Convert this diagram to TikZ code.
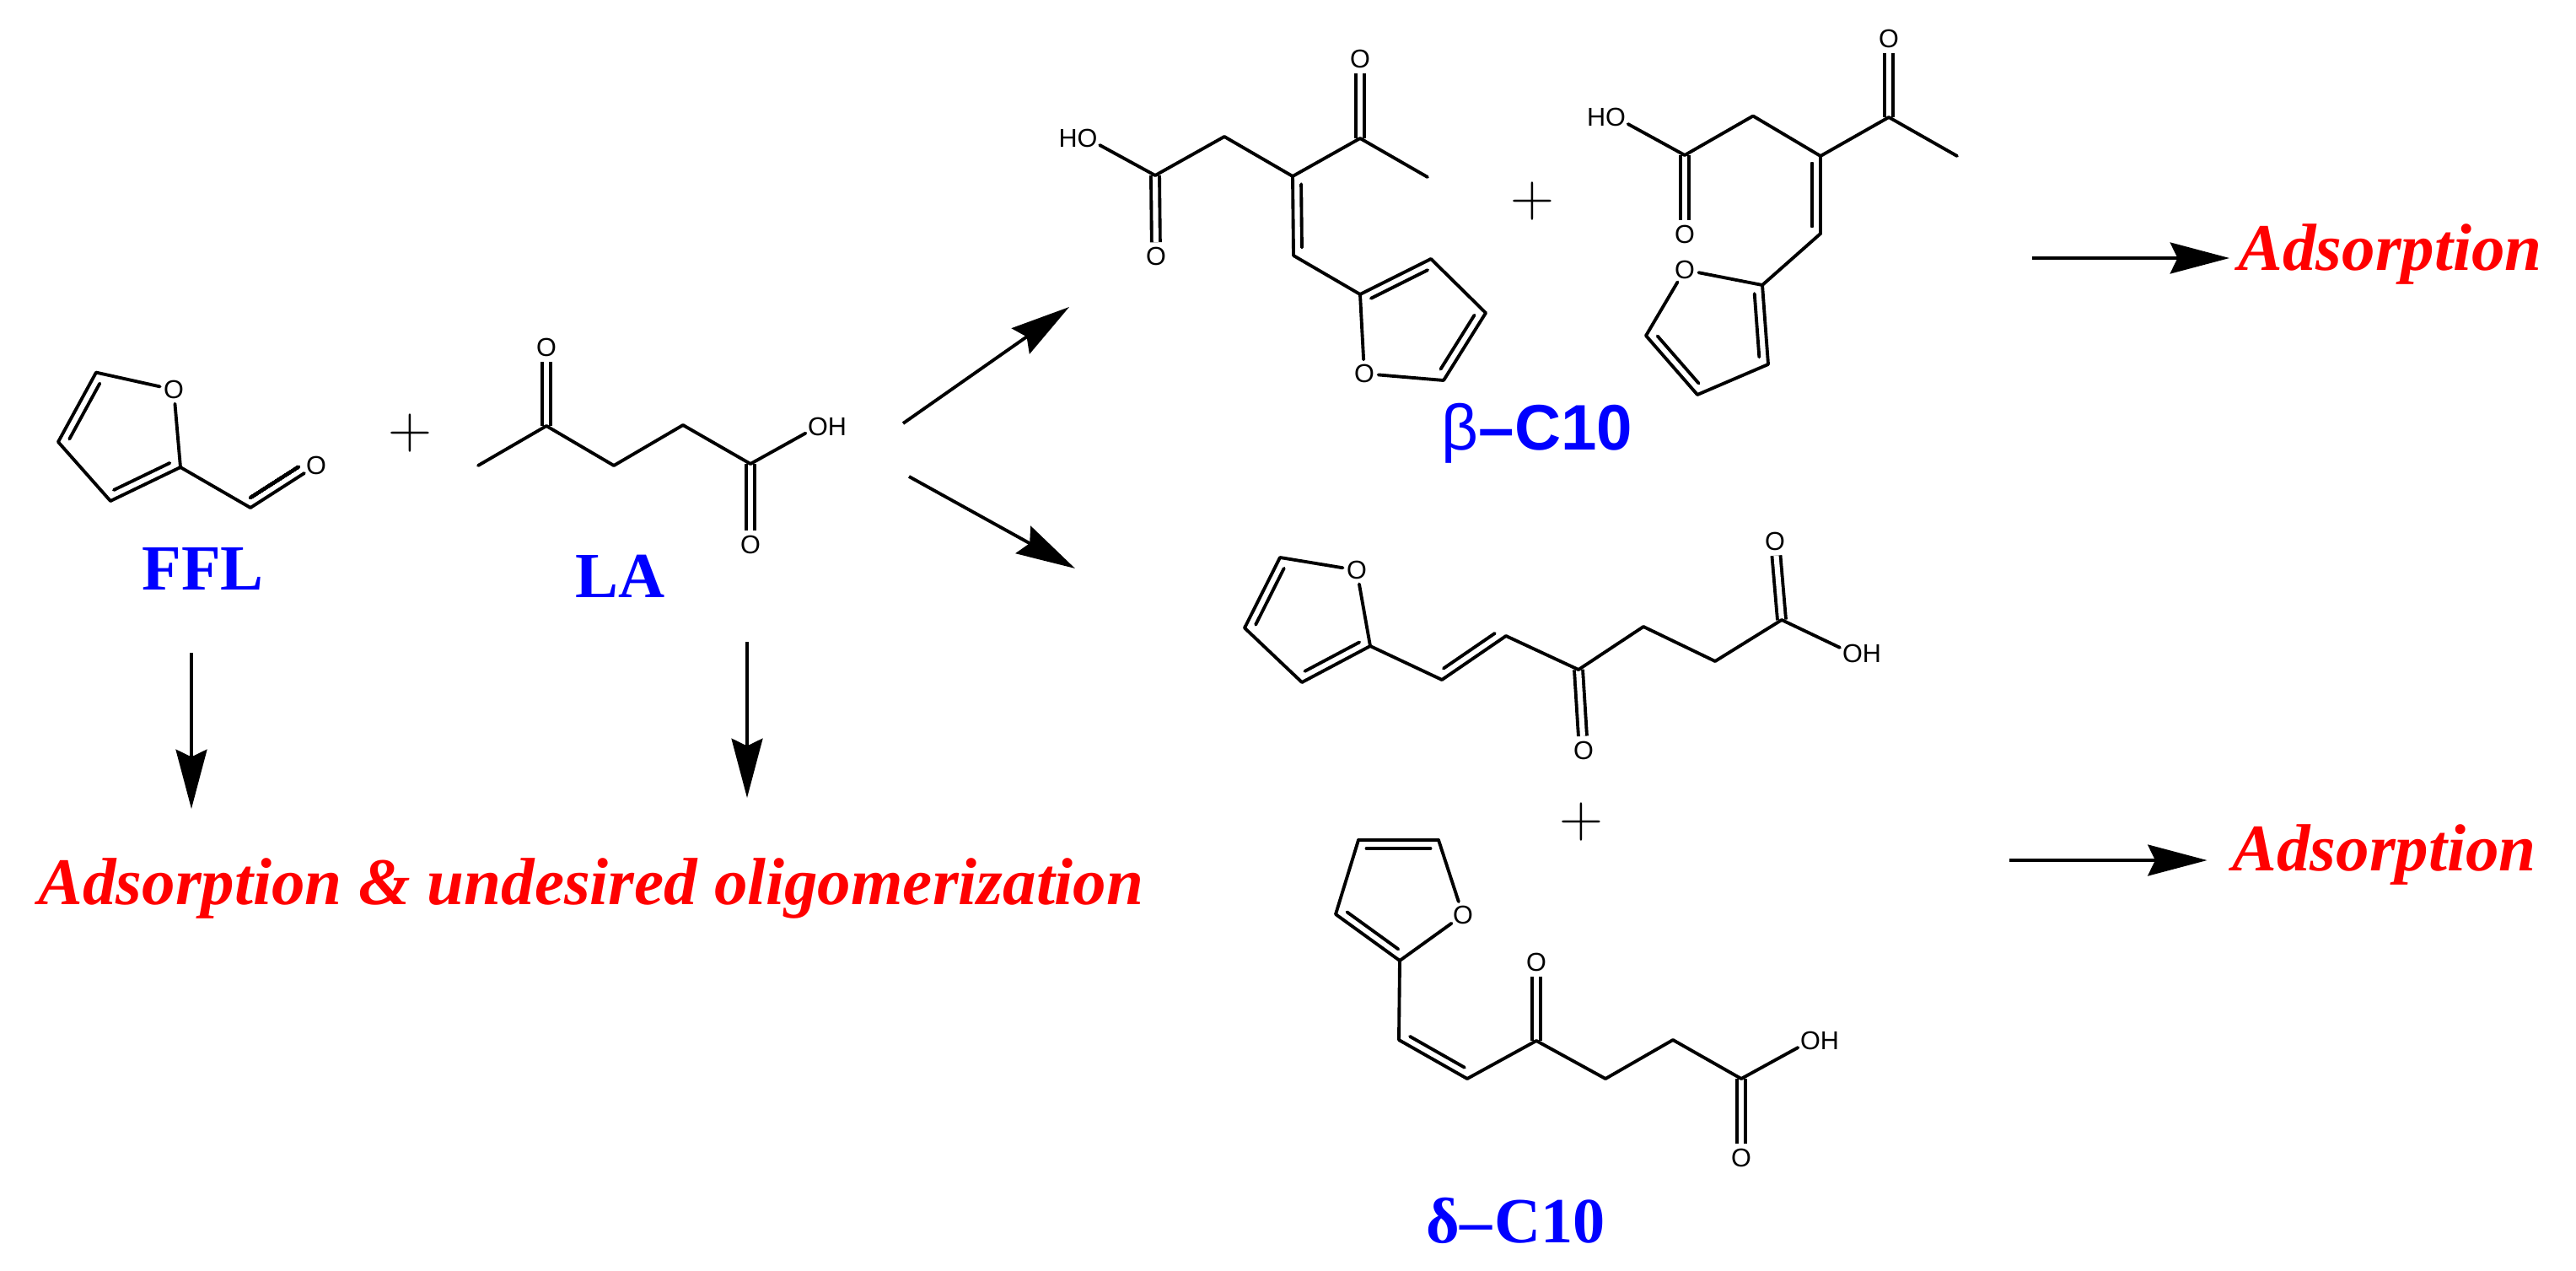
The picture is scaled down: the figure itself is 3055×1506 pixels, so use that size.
\documentclass[tikz,border=0pt]{standalone}
\usepackage{fontspec}
\usetikzlibrary{arrows.meta,calc}

\newfontfamily\atomfont{Liberation Sans}
\newfontfamily\serifface{Liberation Serif}

\tikzset{
  bond/.style={line width=1.1pt,line cap=round,line join=round},
  dbond/.style={line width=1.1pt,double,double distance=1.75pt},
  rxn/.style={line width=1.1pt,->},
  atom/.style={circle,inner sep=0pt,font=\atomfont\fontsize{8.7}{9}\selectfont},
  plussign/.style={inner sep=0pt,font=\fontsize{20.5}{21}\selectfont},
  namelabel/.style={anchor=base west,inner sep=0pt,text=blue,font=\serifface\bfseries\fontsize{21.7}{23}\selectfont},
  fate/.style={anchor=base west,inner sep=0pt,text=red,font=\serifface\bfseries\itshape\fontsize{22.47}{24}\selectfont}
}

% second, shorter line of a double bond, on the left of a -> b
\newcommand{\innerbond}[3][2.85pt]{
  \draw[bond] ($(#2)!0.1!(#3)!#1!90:(#3)$) -- ($(#3)!0.1!(#2)!#1!-90:(#2)$);
}

\begin{document}
\begin{tikzpicture}[x=0.01cm,y=-0.01cm,>={Stealth[length=20pt,width=10.5pt,inset=2.5pt]}]
\useasboundingbox (0,0) rectangle (3055,1506);

% carbons
\foreach \n/\x/\y in {ffa/114/441.6,ffb/69/524,ffc/131/594,ffd/214/554,ffe/297/602,
    laa/567/552,lab/648/505,lac/728/552,lad/810/504,lae/890/550,
    baa/1370/208,bab/1452/162,bac/1533/209,bad/1613/164,bae/1693/210,baf/1534/303,
    bag/1613/349,bah/1697/307,bai/1762/371,baj/1712/451,
    bba/1998/184,bbb/2079/137.5,bbc/2159/185,bbd/2240/139,bbe/2321/185,bbf/2159/277,
    bbg/2090/338,bbh/1952/398,bbi/2013/468,bbj/2097/432,
    dab/1518/661,dac/1476/744.5,dad/1544/809,dae/1625/766,daf/1710/806,dag/1786/754,
    dah/1872/794,dai/1949/743,daj/2034/784,dak/2113/735,
    dbb/1706/996,dbc/1611/996,dbd/1584/1084,dbe/1660/1139,dbf/1659/1233,dbg/1740/1279,
    dbh/1822/1234,dbi/1904/1279,dbj/1984/1233,dbk/2065/1279}
  \coordinate (\n) at (\x,\y);

% oxygens
\foreach \n/\x/\y in {ffo/206/462,ffco/375/552,lao/648/412,laoo/890/646,
    bao/1371/304,baoo/1613/70,bar/1618/443,
    bbo/1998/278,bboo/2240/46,bbr/1998/320,
    dar/1609/676,dao/1878/889.5,daoo/2105/642,
    dbr/1735/1085,dbo/1822/1141,dboo/2065/1373}
  \node[atom] (\n) at (\x,\y) {O};

% hydroxyl groups
\node[atom] (laoh) at (970,505.5) {O\rlap{H}};
\node[atom] (baoh) at (1289.5,164) {\llap{H}O};
\node[atom] (bboh) at (1916,139) {\llap{H}O};
\node[atom] (daoh) at (2197,775) {O\rlap{H}};
\node[atom] (dboh) at (2147,1234) {O\rlap{H}};

% C=O first, the single bonds go over them
\foreach \a/\b in {lab/lao,lae/laoo,baa/bao,bad/baoo,bba/bbo,bbd/bboo,dah/dao,dak/daoo,dbh/dbo,dbk/dboo}
  \draw[dbond] (\a) -- (\b);

% single bonds
\foreach \a/\b in {ffo/ffa,ffa/ffb,ffb/ffc,ffc/ffd,ffd/ffo,ffd/ffe,ffe/ffco,
    laa/lab,lab/lac,lac/lad,lad/lae,lae/laoh,
    baoh/baa,baa/bab,bab/bac,bac/bad,bad/bae,bac/baf,baf/bag,bag/bah,bah/bai,bai/baj,baj/bar,bar/bag,
    bboh/bba,bba/bbb,bbb/bbc,bbc/bbd,bbd/bbe,bbc/bbf,bbf/bbg,bbg/bbr,bbr/bbh,bbh/bbi,bbi/bbj,bbj/bbg,
    dar/dab,dab/dac,dac/dad,dad/dae,dae/dar,dae/daf,daf/dag,dag/dah,dah/dai,dai/daj,daj/dak,dak/daoh,
    dbr/dbb,dbb/dbc,dbc/dbd,dbd/dbe,dbe/dbr,dbe/dbf,dbf/dbg,dbg/dbh,dbh/dbi,dbi/dbj,dbj/dbk,dbk/dboh}
  \draw[bond] (\a) -- (\b);

% inner lines of the ring and chain double bonds
\foreach \a/\b in {ffa/ffb,ffc/ffd,baj/bai,bah/bag,bbh/bbi,bbj/bbg,dab/dac,dad/dae,dbb/dbc,dbd/dbe,
    bac/baf,daf/dag,dbf/dbg}
  \innerbond{\a}{\b}
\innerbond[-2.85pt]{bbc}{bbf}
\draw[bond] ($(ffe)!0.07!(ffco)!2.85pt!90:(ffco)$) -- ($(ffco)!0.2!(ffe)!2.85pt!-90:(ffe)$);

% plus signs
\node[plussign] (plusa) at (486,514) {+};
\node[plussign] (plusb) at (1817,239) {+};
\node[plussign] (plusc) at (1875,974) {+};

% names
\node[namelabel] (ffl) at (168,699) {FFL};
\node[namelabel] (la) at (682,708) {LA};
\node[namelabel] (betaname) at (1709,533) {\atomfont\mdseries β\bfseries –C10};
\node[namelabel] (deltaname) at (1691,1473) {δ–\kern0.8pt C10};

% what happens to them
\node[fate] (fateleft) at (45,1072) {Adsorption \& undesired oligomerization};
\node[fate] (fatebeta) at (2654,320) {Adsorption};
\node[fate] (fatedelta) at (2647,1032) {Adsorption};

% reaction arrows
\coordinate (fflfrom) at (227,774);
\coordinate (fflto) at (227,959);
\coordinate (lafrom) at (886,761);
\coordinate (lato) at (886,946);
\coordinate (upfrom) at (1071,502);
\coordinate (upto) at (1268,364);
\coordinate (downfrom) at (1078,565);
\coordinate (downto) at (1275,674);
\coordinate (betafrom) at (2410,306);
\coordinate (betato) at (2644,306);
\coordinate (deltafrom) at (2383,1020);
\coordinate (deltato) at (2617.5,1020);
\foreach \s/\e in {fflfrom/fflto,lafrom/lato,upfrom/upto,downfrom/downto,betafrom/betato,deltafrom/deltato}
  \draw[rxn] (\s) -- (\e);

\end{tikzpicture}
\end{document}
